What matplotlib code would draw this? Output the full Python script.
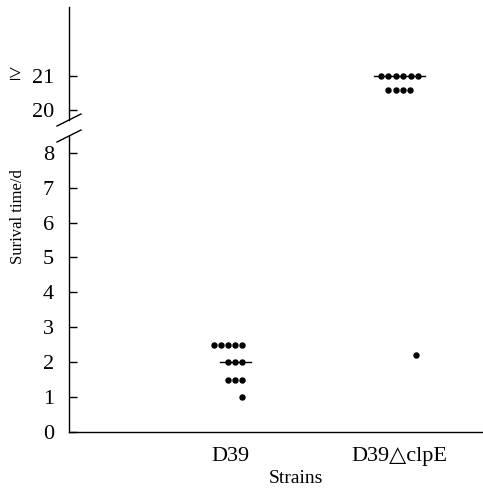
import numpy as np
import matplotlib
matplotlib.use('Agg')
import matplotlib.pyplot as plt
from matplotlib.lines import Line2D

plt.rcParams['font.family'] = ['Liberation Serif', 'DejaVu Serif']
plt.rcParams['font.size'] = 16

# survival time (days) for each mouse
strains = ['D39', 'D39\u25b3clpE']
d39_days = [2.5, 2.5, 2.5, 2.5, 2.5, 2.0, 2.0, 2.0, 1.5, 1.5, 1.5, 1.0]
clpe_days = [21, 21, 21, 21, 21, 21, 20.6, 20.6, 20.6, 20.6, 2.2]

lower_ticks = [0, 1, 2, 3, 4, 5, 6, 7, 8]
upper_ticks = [20, 21]

# horizontal spread of the dots inside each column (layout only)
d39_dx = [-0.101, -0.060, -0.018, 0.024, 0.065, -0.018, 0.024, 0.065,
          -0.018, 0.024, 0.065, 0.065]
clpe_dx = [-0.107, -0.065, -0.018, 0.024, 0.071, 0.113,
           -0.065, -0.018, 0.024, 0.065, 0.101]
d39_med_span = (-0.065, 0.119)
clpe_med_span = (-0.149, 0.155)

fig = plt.figure(figsize=(4.83, 4.9), dpi=100)
ax_lo = fig.add_axes([0.143, 0.1184, 0.857, 0.604])
ax_hi = fig.add_axes([0.143, 0.755, 0.857, 0.2306])

xlim = (0.037, 2.50)
groups = [(1, d39_days, d39_dx, d39_med_span), (2, clpe_days, clpe_dx, clpe_med_span)]
for ax in (ax_lo, ax_hi):
    for xc, vals, dx, span in groups:
        xs = xc + np.array(dx)
        ax.plot(xs, vals, 'o', color='black', ms=3.6)
        med = np.median(vals)
        ax.plot([xc + span[0], xc + span[1]], [med, med], color='black', lw=1)
    ax.set_xlim(*xlim)
    ax.spines['top'].set_visible(False)
    ax.spines['right'].set_visible(False)
    ax.spines['left'].set_linewidth(1)
    ax.spines['bottom'].set_linewidth(1)
    ax.tick_params(axis='y', direction='in', length=6, width=1, pad=11, labelsize=16)

ax_lo.set_ylim(0, 8.48)
ax_lo.set_yticks(lower_ticks)
ax_lo.set_xticks([1, 2.0])
ax_lo.set_xticklabels(strains)
ax_lo.tick_params(axis='x', length=0, pad=11, labelsize=16)
ax_lo.set_xlabel('Strains', fontsize=14)
ax_lo.xaxis.set_label_coords(0.548, -0.130)
ax_lo.set_ylabel('Surival time/d', fontsize=12)
ax_lo.yaxis.set_label_coords(-0.104, 0.727)

ax_hi.set_ylim(19.7, 23.03)
ax_hi.set_yticks(upper_ticks)
ax_hi.spines['bottom'].set_visible(False)
ax_hi.set_xticks([])
ax_hi.text(-0.133, 21, '\u2265', transform=ax_hi.get_yaxis_transform(),
           ha='center', va='center', fontsize=16)

# axis break marks
for y0, y1 in [(1 - 126 / 490, 1 - 114 / 490), (1 - 142 / 490, 1 - 130 / 490)]:
    fig.add_artist(Line2D([57 / 483, 81 / 483], [y0, y1], color='black', lw=1))

fig.savefig('out.png', dpi=100)
